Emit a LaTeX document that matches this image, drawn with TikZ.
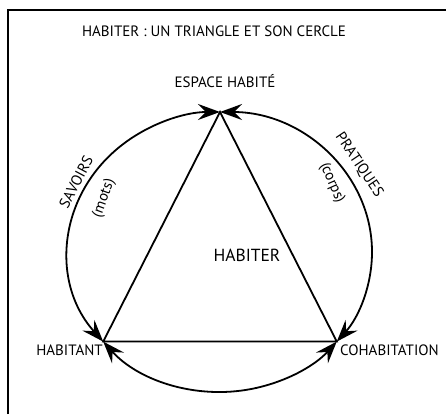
\documentclass[tikz,border=0pt]{standalone}
\usepackage{fontspec}
\setmainfont{PT Sans}
\usetikzlibrary{arrows.meta}

\begin{document}
\begin{tikzpicture}[x=1pt,y=1pt,
  lbl/.style={font=\fontsize{15}{17}\selectfont,inner sep=0pt},
  big/.style={font=\fontsize{17.5}{20}\selectfont,inner sep=0pt},
  edge/.style={line width=1.8pt,line join=miter},
  ring/.style={line width=1.8pt,{Stealth[length=22pt,width=16pt,inset=8pt]}-{Stealth[length=22pt,width=16pt,inset=8pt]}}]
\useasboundingbox (0,0) rectangle (446,414);
% cadre
\draw[line width=2pt] (8,0) -- (8,404) -- (446,404);
\node[lbl] (titre) at (214,383) {HABITER : UN TRIANGLE ET SON CERCLE};
% sommets
\coordinate (esp) at (220,302);
\coordinate (hab) at (103.2,72.4);
\coordinate (coh) at (336.8,72.4);
\node[lbl] (espace) at (225,333) {ESPACE HABITÉ};
\node[lbl,anchor=east] (habitant) at (103,64) {HABITANT};
\node[lbl,anchor=west] (cohab) at (340,64) {COHABITATION};
\node[big] (habiter) at (247,159) {HABITER};
% triangle
\draw[edge] (hab) -- (esp) -- (coh) -- cycle;
% cercle
\draw[ring] (hab) arc[start angle=219.8,end angle=90,x radius=152,y radius=140];
\draw[ring] (esp) arc[start angle=90,end angle=-39.8,x radius=152,y radius=140];
\draw[ring] (hab) arc[start angle=219.8,end angle=320.2,x radius=152,y radius=140];
% legendes des arcs
\node[lbl,rotate=62] (savoirs) at (76,232) {SAVOIRS};
\node[lbl,rotate=70] (mots) at (104,216) {(mots)};
\node[lbl,rotate=-56] (pratiques) at (359,249) {PRATIQUES};
\node[lbl,rotate=-66] (corps) at (332,231) {(corps)};
\end{tikzpicture}
\end{document}
